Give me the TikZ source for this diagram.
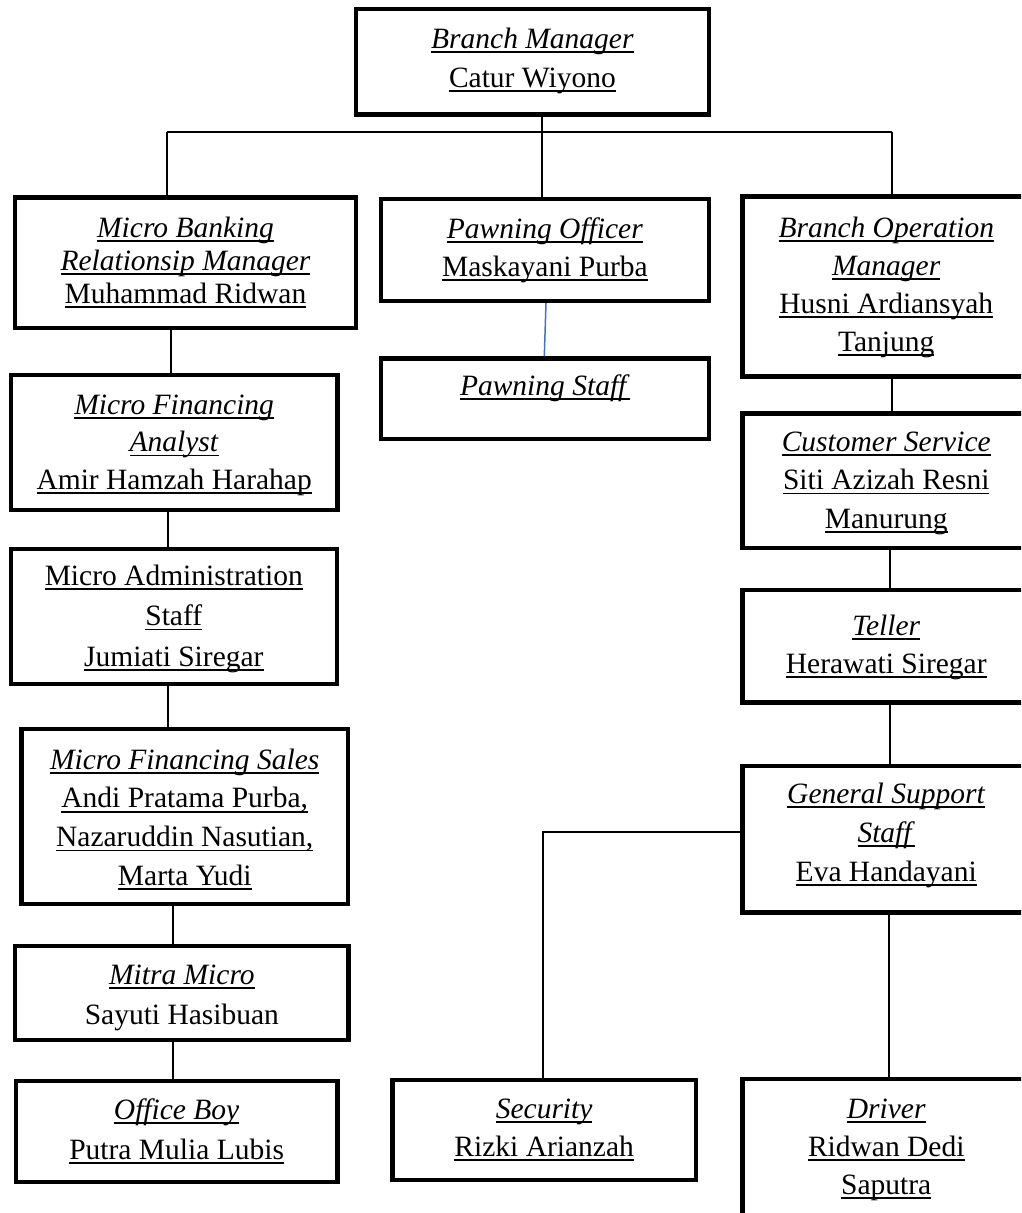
\documentclass[tikz,border=0pt]{standalone}
\usepackage{fontspec}
\setmainfont{Liberation Serif}
\newcommand\ulx[1]{\setbox0=\hbox{#1}\rlap{\rule[-4.6pt]{\wd0}{1.5pt}}\box0}
\newcommand\fs[1]{\fontsize{29.5pt}{#1pt}\selectfont}
\newcommand\st{\rule{0pt}{24pt}}
\begin{document}
\begin{tikzpicture}[x=1pt,y=-1pt,
  box/.style={draw, line width=4.5pt, rectangle, inner sep=0pt},
  conn/.style={line width=1.7pt},
  lbl/.style={align=center, inner sep=0pt, anchor=north}]
\useasboundingbox (0,0) rectangle (1021,1213);
\fill[white] (0,0) rectangle (1021,1213);
\clip (0,0) rectangle (1021,1213);

% boxes
\node[box, minimum width=353.2, minimum height=105.3] (bm) at (532.4,61.85) {};
\node[box, minimum width=340.6, minimum height=130.7] (mbrm) at (185.5,262.85) {};
\node[box, minimum width=326.7, minimum height=134.8] (mfa) at (174.15,442.4) {};
\node[box, minimum width=326, minimum height=135] (mas) at (173.8,616.5) {};
\node[box, minimum width=326.5, minimum height=175] (mfs) at (184.75,816.5) {};
\node[box, minimum width=333.3, minimum height=94] (mitra) at (181.85,992.8) {};
\node[box, minimum width=321.7, minimum height=101] (ob) at (176.65,1131.3) {};
\node[box, minimum width=328.2, minimum height=101.8] (po) at (544.9,249.9) {};
\node[box, minimum width=328.2, minimum height=80.5] (ps) at (544.9,398.75) {};
\node[box, minimum width=287.5, minimum height=180] (bom) at (886.25,286.5) {};
\node[box, minimum width=287.5, minimum height=134.5] (cs) at (886.25,480.75) {};
\node[box, minimum width=287.5, minimum height=112.7] (tel) at (886.25,646.15) {};
\node[box, minimum width=287.5, minimum height=146.7] (gss) at (886.25,839.15) {};
\node[box, minimum width=303.3, minimum height=100] (sec) at (544.15,1130) {};
\node[box, minimum width=287.5, minimum height=161] (drv) at (886.25,1159.5) {};

% labels
\node[lbl, font=\fs{39}] (bm-t) at (532.4,24) {\st\ulx{\textit{Branch Manager}}\\\ulx{Catur Wiyono}};
\node[lbl, font=\fs{33}] (mbrm-t) at (185.5,213) {\st\ulx{\textit{Micro Banking}}\\\ulx{\textit{Relationsip Manager}}\\\ulx{Muhammad Ridwan}};
\node[lbl, font=\fs{37.5}] (mfa-t) at (174.15,390) {\st\ulx{\textit{Micro Financing}}\\\ulx{\textit{Analyst}}\\\ulx{Amir Hamzah Harahap}};
\node[lbl, font=\fs{40.5}] (mas-t) at (173.8,561) {\st\ulx{Micro Administration}\\\ulx{Staff}\\\ulx{Jumiati Siregar}};
\node[lbl, font=\fs{38.7}] (mfs-t) at (184.75,745) {\st\ulx{\textit{Micro Financing Sales}}\\\ulx{Andi Pratama Purba,}\\\ulx{Nazaruddin Nasutian,}\\\ulx{Marta Yudi}};
\node[lbl, font=\fs{40}] (mitra-t) at (181.85,960) {\st\ulx{\textit{Mitra Micro}}\\Sayuti Hasibuan};
\node[lbl, font=\fs{40}] (ob-t) at (176.65,1095) {\st\ulx{\textit{Office Boy}}\\\ulx{Putra Mulia Lubis}};
\node[lbl, font=\fs{38}] (po-t) at (544.9,214) {\st\ulx{\textit{Pawning Officer}}\\\ulx{Maskayani Purba}};
\node[lbl, font=\fs{38}] (ps-t) at (544.9,371) {\st\ulx{\textit{Pawning Staff}}};
\node[lbl, font=\fs{38}] (bom-t) at (886.25,213) {\st\ulx{\textit{Branch Operation}}\\\ulx{\textit{Manager}}\\\ulx{Husni Ardiansyah}\\\ulx{Tanjung}};
\node[lbl, font=\fs{38.5}] (cs-t) at (886.25,427) {\st\ulx{\textit{Customer Service}}\\\ulx{Siti Azizah Resni}\\\ulx{Manurung}};
\node[lbl, font=\fs{38}] (tel-t) at (886.25,611) {\st\ulx{\textit{Teller}}\\\ulx{Herawati Siregar}};
\node[lbl, font=\fs{39}] (gss-t) at (886.25,779) {\st\ulx{\textit{General Support}}\\\ulx{\textit{Staff}}\\\ulx{Eva Handayani}};
\node[lbl, font=\fs{38}] (sec-t) at (544.15,1094) {\st\ulx{\textit{Security}}\\\ulx{Rizki Arianzah}};
\node[lbl, font=\fs{38}] (drv-t) at (886.25,1094) {\st\ulx{\textit{Driver}}\\\ulx{Ridwan Dedi}\\\ulx{Saputra}};

% connector coordinates
\coordinate (busL) at (166.7,132.3);
\coordinate (busR) at (892.3,132.3);
\coordinate (xbm) at (542.3,0);
\coordinate (x1) at (170.7,0);
\coordinate (x2) at (167.7,0);
\coordinate (x3) at (172.7,0);
\coordinate (xpo) at (546,0);
\coordinate (xps) at (544.3,0);
\coordinate (x4) at (892.3,0);
\coordinate (x5) at (890,0);
\coordinate (x6) at (889,0);
\coordinate (jsec) at (542.7,831.7);

% connectors
\draw[conn] (bm.south -| xbm) -- (po.north -| xbm);
\draw[conn] (busL) -- (busR);
\draw[conn] (busL) -- (busL |- mbrm.north);
\draw[conn] (busR) -- (busR |- bom.north);
\draw[conn] (mbrm.south -| x1) -- (mfa.north -| x1);
\draw[conn] (mfa.south -| x2) -- (mas.north -| x2);
\draw[conn] (mas.south -| x2) -- (mfs.north -| x2);
\draw[conn] (mfs.south -| x3) -- (mitra.north -| x3);
\draw[conn] (mitra.south -| x3) -- (ob.north -| x3);
\draw[line width=1.5pt, color={rgb,255:red,68;green,114;blue,196}] (po.south -| xpo) -- (ps.north -| xps);
\draw[conn] (bom.south -| x4) -- (cs.north -| x4);
\draw[conn] (cs.south -| x5) -- (tel.north -| x5);
\draw[conn] (tel.south -| x5) -- (gss.north -| x5);
\draw[conn] (gss.south -| x6) -- (drv.north -| x6);
\draw[conn] (gss.west |- jsec) -| (sec.north -| jsec);
\end{tikzpicture}
\end{document}
